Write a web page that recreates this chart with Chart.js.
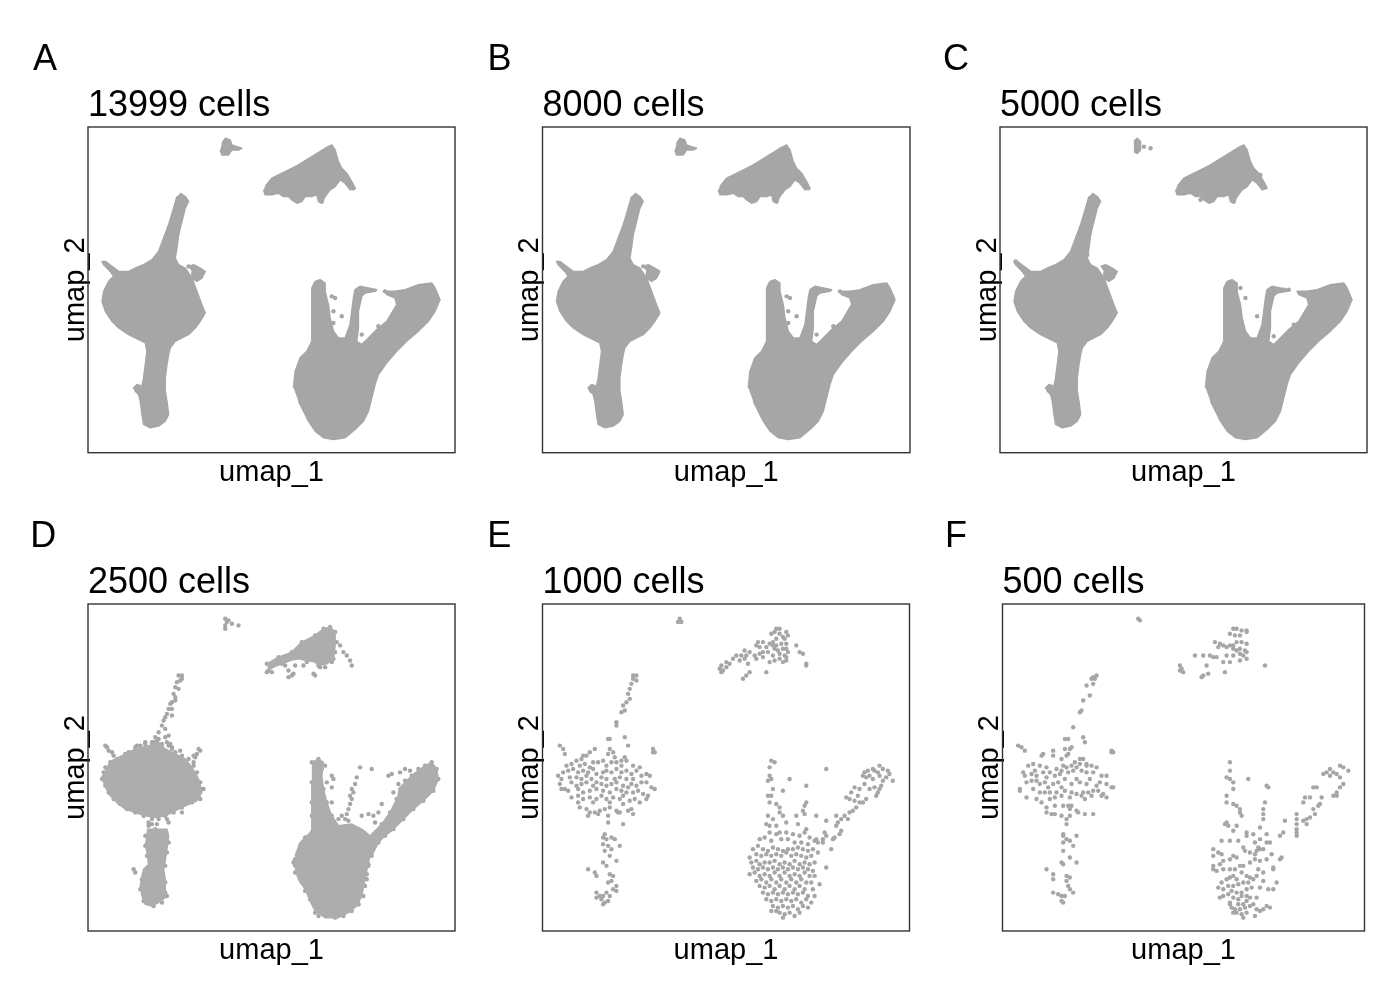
<!DOCTYPE html>
<html><head><meta charset="utf-8">
<script src="https://cdn.jsdelivr.net/npm/chart.js@4.4.1/dist/chart.umd.min.js"></script>
<style>
html,body{margin:0;padding:0;background:#fff;}
body{width:1400px;height:1000px;position:relative;overflow:hidden;}
canvas{position:absolute;}
</style></head><body>
<script>
// ---------------- text ----------------
const panelLetters = ['A','B','C','D','E','F'];
const panelTitles = ['13999 cells','8000 cells','5000 cells','2500 cells','1000 cells','500 cells'];
const axisTitleX = 'umap_1';
const axisTitleY = 'umap_2';

// ---------------- dense outlines (umap units) used for 13999 / 8000 / 5000 cells ----------------
const outlineTopDot = [[-2.8,8.9],[-2.6,9.2],[-2.3,9.1],[-2.2,8.8],[-1.9,8.7],[-1.6,8.6],[-1.8,8.5],[-2.2,8.5],[-2.4,8.2],[-2.8,8.2],[-2.9,8.5]];
const outlineTopDotC = [[-2.8,9.0],[-2.6,9.2],[-2.4,9.0],[-2.4,8.5],[-2.6,8.3],[-2.8,8.4]];
const outlineTopRight = [[-0.2,6.3],[0.2,6.8],[1.0,7.2],[1.8,7.6],[2.6,8.1],[3.4,8.6],[3.8,8.8],[4.0,8.5],[4.2,7.8],[4.4,7.4],[4.7,7.1],[5.0,6.6],[5.2,6.2],[4.9,6.1],[4.6,6.5],[4.3,6.7],[4.0,6.3],[3.7,6.1],[3.4,5.7],[3.2,5.3],[3.0,5.4],[2.9,5.8],[2.6,5.7],[2.2,5.7],[2.0,5.4],[1.7,5.3],[1.4,5.5],[1.2,5.7],[0.9,5.7],[0.6,5.9],[0.2,5.8],[-0.2,5.8],[-0.3,6.1]];
const outlineLeft = [[-5.3,5.9],[-5.0,5.7],[-4.8,5.4],[-5.0,5.0],[-5.2,4.2],[-5.4,3.4],[-5.5,2.6],[-5.6,2.0],[-5.4,1.6],[-5.0,1.4],[-4.6,0.8],[-4.3,0.0],[-4.0,-0.8],[-3.8,-1.3],[-4.1,-1.8],[-4.4,-2.2],[-4.8,-2.6],[-5.2,-2.8],[-5.6,-3.0],[-5.9,-3.4],[-6.0,-3.8],[-6.1,-4.4],[-6.2,-5.2],[-6.2,-6.0],[-6.1,-6.6],[-6.0,-7.4],[-6.2,-7.8],[-6.6,-8.1],[-7.1,-8.2],[-7.5,-8.0],[-7.6,-7.4],[-7.7,-6.6],[-7.8,-6.2],[-8.0,-6.0],[-8.1,-5.8],[-7.9,-5.6],[-7.6,-5.7],[-7.5,-5.2],[-7.4,-4.4],[-7.3,-3.6],[-7.4,-3.1],[-7.8,-2.9],[-8.4,-2.6],[-9.0,-2.2],[-9.4,-1.8],[-9.8,-1.2],[-10.0,-0.6],[-9.9,0.0],[-9.6,0.6],[-9.3,0.9],[-9.5,1.2],[-9.9,1.6],[-10.0,1.8],[-9.8,1.8],[-9.4,1.5],[-9.0,1.2],[-8.4,1.2],[-8.0,1.4],[-7.5,1.6],[-7.0,1.9],[-6.6,2.4],[-6.3,3.2],[-6.0,4.0],[-5.7,5.0],[-5.5,5.7]];
const outlineSmall = [[-4.8,1.5],[-4.5,1.6],[-4.1,1.4],[-3.8,1.2],[-4.0,0.8],[-4.3,0.6],[-4.6,0.8],[-4.6,1.2]];
const outlineRight = [[1.5,-5.8],[1.6,-4.8],[1.9,-4.0],[2.3,-3.6],[2.6,-3.0],[2.6,-2.0],[2.6,-0.8],[2.6,0.2],[2.8,0.6],[3.1,0.7],[3.4,0.5],[3.4,0.0],[3.6,-0.8],[3.7,-1.6],[3.9,-2.4],[4.2,-2.8],[4.6,-2.8],[4.9,-2.0],[5.0,-1.2],[5.1,-0.4],[5.2,0.1],[5.5,0.3],[6.0,0.2],[6.5,0.1],[6.4,0.0],[5.8,-0.1],[5.6,-0.3],[5.4,-1.2],[5.4,-2.2],[5.3,-3.0],[5.6,-3.2],[6.0,-2.8],[6.5,-2.3],[7.1,-1.8],[7.7,-0.8],[7.6,-0.4],[7.1,-0.2],[7.0,0.0],[7.6,0.0],[8.2,0.1],[9.0,0.4],[9.8,0.5],[10.0,0.2],[10.3,-0.5],[10.0,-1.2],[9.6,-1.8],[9.0,-2.4],[8.3,-3.0],[7.7,-3.6],[7.1,-4.3],[6.6,-5.0],[6.4,-5.6],[6.2,-6.4],[6.0,-7.2],[5.7,-7.8],[5.2,-8.3],[4.6,-8.8],[3.9,-8.9],[3.3,-8.8],[2.8,-8.4],[2.4,-7.8],[2.1,-7.2],[1.8,-6.6]];
const outliersAB = [[3.8,-0.3],[4.0,-0.4],[3.9,-1.2],[4.4,-1.5],[3.9,-1.9],[5.6,-2.6],[6.6,-2.1],[7.0,0.0],[4.9,6.3],[5.1,6.2],[3.2,5.4],[-4.8,1.5]];
const outliersC = [[-2.6,9.0],[-2.5,8.8],[-2.6,8.4],[-2.2,8.7],[-1.8,8.6],[4.3,7.4],[4.8,7.0],[5.0,6.3],[3.2,5.4],[1.2,5.5],[-7.9,-5.9],[-7.4,-5.6],[-9.9,1.8],[-4.2,1.3],[3.6,0.2],[3.9,-0.4],[4.6,-1.5],[5.6,-2.7],[6.2,0.1],[6.5,0.1],[7.4,-0.1],[6.8,-2.0],[-5.6,2.2],[-5.8,1.8]];

// ---------------- 2500 cells: dense cores + individual cells ----------------
const coreD_topRight = [[-0.1,6.3],[0.6,6.7],[1.4,7.0],[2.0,7.6],[2.8,8.0],[3.3,8.4],[3.7,8.5],[4.0,8.2],[4.0,7.4],[3.9,6.6],[3.5,6.3],[3.0,6.2],[2.8,6.4],[2.3,6.5],[1.8,6.6],[1.3,6.5],[0.8,6.3],[0.3,6.1],[0.0,5.9]];
const coreD_left = [[-9.8,0.0],[-9.4,0.5],[-8.8,0.8],[-8.0,1.2],[-7.2,1.4],[-6.6,1.6],[-6.2,1.2],[-5.6,0.9],[-5.0,0.6],[-4.6,0.1],[-4.2,-0.6],[-4.0,-1.4],[-4.3,-1.9],[-5.0,-2.2],[-5.6,-2.5],[-6.2,-2.8],[-6.8,-2.9],[-7.4,-2.8],[-8.0,-2.6],[-8.6,-2.4],[-9.1,-2.0],[-9.6,-1.5],[-9.9,-0.8],[-10.0,-0.4]];
const coreD_stem = [[-7.3,-3.6],[-6.1,-3.6],[-6.0,-4.0],[-6.1,-4.8],[-6.2,-5.5],[-6.3,-6.0],[-6.2,-6.6],[-6.2,-7.2],[-6.2,-7.7],[-6.6,-8.0],[-7.0,-8.2],[-7.4,-8.1],[-7.6,-7.6],[-7.7,-7.0],[-7.6,-6.4],[-7.5,-6.0],[-7.2,-5.7],[-7.3,-5.0],[-7.4,-4.4]];
const coreD_finger = [[2.6,0.4],[3.0,0.6],[3.3,0.4],[3.2,-0.4],[3.3,-1.2],[3.5,-2.0],[3.8,-2.8],[4.2,-3.4],[4.2,-3.9],[3.4,-4.0],[2.6,-3.9],[2.6,-2.8],[2.6,-2.0],[2.6,-0.8]];
const coreD_arm = [[7.8,-1.2],[8.6,-0.4],[9.4,0.2],[9.8,0.4],[10.1,0.0],[10.2,-0.6],[9.9,-1.3],[9.3,-1.9],[8.7,-2.4],[8.1,-3.0],[7.5,-3.6],[7.0,-4.0],[6.6,-4.4],[6.2,-5.2],[5.9,-5.0],[5.9,-4.2],[6.3,-3.8],[6.8,-3.3],[7.3,-2.6],[7.7,-1.8]];
const coreD_blob = [[1.6,-5.2],[1.9,-4.4],[2.3,-4.0],[2.8,-3.6],[3.6,-3.5],[4.2,-3.4],[5.0,-3.3],[5.6,-3.6],[6.1,-4.0],[6.2,-4.8],[6.0,-5.6],[5.8,-6.6],[5.6,-7.6],[5.3,-8.2],[4.8,-8.6],[4.2,-8.9],[3.4,-8.9],[2.8,-8.5],[2.5,-7.9],[2.2,-7.2],[1.8,-6.6],[1.6,-6.0]];
const cellsD_top = [[-2.6,9.0],[-2.5,8.8],[-2.6,8.6],[-2.6,8.4],[-2.2,8.7],[-1.8,8.6],[-2.4,8.9],[4.3,7.4],[4.5,7.0],[4.7,6.8],[4.9,6.5],[5.0,6.2],[1.0,6.2],[1.2,5.9],[1.4,5.6],[1.2,5.5],[1.5,5.7],[2.7,5.7],[2.8,5.6],[3.1,6.1],[3.4,6.1],[0.2,5.8],[-0.1,5.8],[3.8,6.4],[2.1,6.2],[1.6,6.2],
  [-0.1,6.3],[0.6,6.7],[1.4,7.0],[2.0,7.6],[2.8,8.0],[3.3,8.4],[3.7,8.5],[4.0,8.2],[4.1,7.6],[4.0,7.0],[3.9,6.6],[3.0,6.2],[2.3,6.4],[0.8,6.3],[0.0,5.9]];
const cellsD_left = [[-5.2,5.6],[-5.4,5.6],[-5.2,5.4],[-5.3,5.3],[-5.5,5.2],[-5.6,4.9],[-5.4,4.8],[-5.7,4.5],[-5.6,4.3],[-5.8,4.0],[-5.9,3.9],[-6.0,3.6],[-5.8,3.6],[-6.1,3.3],[-6.2,3.1],[-6.3,2.9],[-6.4,2.6],[-6.2,2.4],[-6.6,2.2],[-6.8,1.9],[-6.6,1.8],[-6.2,1.9],[-6.0,2.0],[-5.9,1.5],[-5.8,1.3],[-6.9,1.6],[-5.6,4.1],[-5.8,3.2],
  [-9.8,1.4],[-9.7,1.3],[-9.6,1.1],[-9.4,1.0],[-9.3,0.8],
  [-4.4,0.7],[-4.3,0.9],[-4.1,1.1],[-4.2,1.2],[-4.5,0.8],
  [-7.9,1.4],[-7.4,1.6],[-6.1,1.6],[-5.8,1.2],[-5.3,1.1],[-4.4,-0.4],[-3.9,-1.2],[-4.1,-1.8],[-5.2,-2.6],[-6.0,-3.2],[-6.1,-3.0],[-7.0,-3.3],[-7.2,-3.2],[-9.0,-2.0],[-9.3,-1.8],[-8.6,0.7],[-8.4,1.0],[-4.5,0.4],
  [-8.0,1.3],[-7.7,1.4],[-7.4,1.5],[-7.0,1.6],[-6.7,1.7],[-6.4,1.5],[-6.0,1.4],[-5.6,1.0],[-5.2,0.8],[-4.8,0.6],[-4.5,0.2],[-4.3,-0.2],[-4.1,-0.8],[-4.0,-1.2],[-4.2,-1.6],[-4.6,-2.0],[-5.2,-2.3],[-5.7,-2.6],[-6.2,-2.8],[-6.6,-3.0],[-7.0,-3.0],[-7.5,-2.8],[-8.0,-2.6],[-8.5,-2.4],[-8.9,-2.1],[-9.2,-1.8],[-9.6,-1.4],[-9.8,-1.0],[-10.0,-0.6],[-9.9,-0.2],[-9.8,0.1],[-9.5,0.4],[-9.1,0.6],[-8.6,0.9],
  [-8.1,-6.0],[-8.0,-6.2],[-7.2,-3.4],[-6.8,-3.6],[-6.7,-3.3],[-6.1,-7.6],[-6.2,-7.4],[-7.4,-4.0],[-6.0,-4.4],
  [-7.4,-4.6],[-7.3,-5.2],[-6.1,-5.0],[-6.2,-5.8],[-7.6,-6.6],[-7.7,-7.2],[-6.2,-6.8],[-7.5,-7.9],[-6.4,-8.0],[-6.9,-8.2]];
const cellsD_right = [[3.2,0.0],[3.8,-0.4],[3.9,-0.6],[3.8,-1.1],[3.4,0.2],[3.5,-0.8],
  [5.5,0.1],[6.2,0.0],[5.3,-0.5],[5.2,-0.9],[5.0,-1.2],[4.9,-1.6],[5.0,-1.8],[4.9,-2.1],[4.8,-2.4],[4.7,-2.7],[4.6,-3.0],[4.4,-2.8],[4.2,-3.0],[5.6,-2.8],[6.0,-2.7],[6.3,-2.8],[3.8,-2.0],[5.1,-1.4],[4.8,-3.1],
  [7.2,-0.4],[7.4,-0.3],[7.9,-0.2],[8.2,0.0],[6.8,-2.1],[6.6,-2.6],[6.4,-3.2],[9.0,0.0],[8.2,-0.7],[7.8,-0.9],[8.5,-0.1],[7.5,-1.4],
  [1.5,-5.6],[1.6,-6.2],[6.0,-5.8],[5.9,-6.6],[6.2,-5.2],[5.7,-7.6],[5.4,-8.1],[2.8,-8.6],[2.0,-4.8],[3.0,-8.8],[5.8,-4.0],
  [1.6,-5.4],[1.6,-5.8],[1.8,-6.3],[2.0,-6.8],[2.2,-7.3],[2.5,-7.8],[2.8,-8.2],[3.1,-8.6],[3.5,-8.8],[4.0,-8.9],[4.5,-8.8],[5.0,-8.5],[5.4,-8.1],[5.6,-7.6],[5.8,-7.0],[5.9,-6.3],[6.0,-5.7],[6.1,-5.1],[6.2,-4.5],[6.0,-4.1],[5.7,-3.8],[1.9,-4.6],[2.2,-4.1],[2.6,-3.8],
  [2.6,0.4],[2.6,-0.8],[2.6,-2.0],[2.6,-2.8],[3.0,0.6],[3.3,-1.2],[3.5,-2.0],[3.8,-2.8],
  [9.4,0.2],[9.8,0.4],[10.1,0.0],[10.2,-0.6],[9.9,-1.3],[9.3,-1.9],[8.7,-2.4],[8.1,-3.0],[7.5,-3.6],[7.0,-4.0],[6.6,-4.4],[8.6,-0.4],[7.7,-1.8],[7.3,-2.6],[6.8,-3.3]];

// ---------------- 1000 cells ----------------
const cellsE_top = [[-2.6,9.0],[-2.5,8.8],[-2.7,8.8]];
const cellsE_topRight = [[3.2,8.4],[3.4,8.4],[3.1,8.2],[2.9,8.1],[3.8,8.2],[3.9,8.0],[3.4,8.1],[3.6,7.9],[3.7,7.8],[3.2,7.8],[3.0,7.6],[2.8,7.5],[2.4,7.6],[2.1,7.6],[2.0,7.4],[2.2,7.3],[2.6,7.3],[3.0,7.4],[3.2,7.4],[3.5,7.5],[3.8,7.5],[4.4,7.4],[3.1,7.2],[3.3,7.1],[3.6,7.2],[3.8,7.2],[3.9,7.0],[3.4,6.9],[3.7,6.8],[3.8,6.7],[4.6,7.0],[4.8,6.9],[3.0,6.8],[2.7,7.0],[2.4,7.0],[2.2,6.9],[1.9,6.8],[1.6,7.0],[1.3,7.1],[1.4,6.8],[1.1,6.8],[0.8,6.8],[0.6,6.6],[1.0,6.5],[1.3,6.6],[1.5,6.3],[2.0,6.6],[2.4,6.7],[2.8,6.4],[3.1,6.5],[3.4,6.6],[3.6,6.4],[3.8,6.5],[0.2,6.4],[-0.1,6.2],[-0.2,6.0],[0.0,5.9],[-0.1,5.8],[0.2,6.1],[0.4,6.3],[2.6,5.8],[5.0,6.3],[5.0,6.2],[1.6,5.8],[1.4,5.6],[1.2,5.4]];
const cellsE_left = [[-5.2,5.6],[-5.4,5.6],[-5.4,5.4],[-5.2,5.3],[-5.5,5.1],[-5.6,4.8],[-5.7,4.5],[-5.6,4.2],[-5.8,4.0],[-6.0,3.8],[-5.9,3.5],[-6.1,3.4],[-6.4,2.8],[-6.4,2.6],[-6.8,1.8],[-6.9,1.8],[-5.9,1.9],[-5.7,1.4],
  [-9.8,1.4],[-9.6,1.2],[-9.5,0.9],[-4.2,1.2],[-4.1,1.0],[-4.2,1.0],
  [-7.7,1.2],[-8.0,1.0],[-8.2,0.8],[-8.4,0.8],[-6.8,1.2],[-6.6,1.0],[-6.9,0.9],[-6.5,0.7],[-5.9,0.7],[-6.1,0.5],[-8.8,0.5],[-8.5,0.6],[-9.4,0.2],[-9.1,0.3],[-8.6,0.2],[-8.3,0.3],[-7.8,0.4],[-7.5,0.4],[-7.2,0.5],[-6.7,0.4],[-6.4,0.4],[-5.8,0.5],[-5.4,0.2],[-5.0,0.1],[-6.1,0.2],[-7.0,0.2],[-8.0,0.1],
  [-9.9,-0.4],[-9.6,-0.2],[-9.3,-0.1],[-9.0,0.0],[-8.7,-0.2],[-8.4,-0.1],[-8.1,-0.2],[-7.8,0.0],[-7.6,-0.3],[-7.2,-0.2],[-7.0,-0.1],[-6.7,-0.2],[-6.4,0.0],[-6.1,-0.2],[-5.8,-0.1],[-5.5,-0.3],[-5.2,-0.1],[-4.9,-0.4],[-4.6,-0.3],[-4.4,-0.4],[-9.7,-0.6],[-9.2,-0.5],[-8.8,-0.5],[-8.5,-0.6],[-8.2,-0.4],[-7.9,-0.6],[-7.3,-0.5],[-7.0,-0.6],[-6.5,-0.6],[-6.2,-0.5],[-5.8,-0.6],[-5.4,-0.6],
  [-9.8,-0.9],[-9.5,-1.2],[-9.1,-0.8],[-8.8,-1.0],[-8.5,-0.9],[-8.2,-0.8],[-7.8,-1.0],[-7.6,-0.8],[-7.3,-0.9],[-7.0,-1.0],[-6.7,-0.9],[-6.4,-0.8],[-6.0,-1.0],[-5.7,-1.1],[-5.5,-0.9],[-5.2,-1.0],[-4.9,-0.8],[-4.6,-0.8],[-4.3,-1.1],[-4.1,-1.2],[-9.7,-1.2],[-9.3,-1.3],[-8.7,-1.2],[-8.4,-1.4],[-8.0,-1.3],[-7.6,-1.2],[-7.2,-1.3],[-6.8,-1.4],[-6.4,-1.2],[-6.1,-1.3],[-5.8,-1.4],[-5.4,-1.4],[-5.1,-1.3],[-4.8,-1.5],[-4.5,-1.6],
  [-9.1,-1.7],[-8.7,-1.6],[-8.4,-1.8],[-8.0,-1.7],[-7.6,-1.8],[-7.3,-1.6],[-7.0,-1.8],[-6.6,-1.7],[-6.2,-1.8],[-6.0,-1.6],[-5.6,-1.9],[-5.3,-1.8],[-5.0,-2.0],[-4.6,-1.8],[-8.7,-2.0],[-7.8,-2.0],[-6.8,-2.0],[-6.0,-2.1],
  [-8.6,-2.3],[-8.2,-2.4],[-8.0,-2.6],[-7.7,-2.6],[-7.4,-2.5],[-7.1,-2.4],[-6.8,-2.3],[-6.4,-2.5],[-6.2,-2.6],[-5.7,-2.5],[-5.4,-2.7],[-8.1,-2.8],[-7.5,-2.7],[-6.9,-2.8],[-6.3,-2.6],[-6.9,-3.2],[-6.0,-3.3],[-5.5,-2.4]];
const cellsE_stem = [[-7.1,-3.9],[-7.2,-4.1],[-7.0,-4.2],[-6.7,-4.1],[-6.5,-4.2],[-6.2,-4.6],[-7.2,-4.5],[-6.9,-4.6],[-7.1,-4.9],[-6.7,-4.8],[-6.8,-5.2],[-6.4,-5.5],[-7.2,-5.6],[-7.0,-5.8],[-8.1,-6.0],[-7.7,-6.2],[-7.6,-6.4],[-6.8,-6.3],[-6.6,-6.4],[-6.7,-6.7],[-6.9,-6.8],[-6.4,-7.0],[-6.6,-7.2],[-6.4,-7.3],[-7.6,-7.4],[-7.4,-7.6],[-7.6,-7.7],[-7.2,-7.6],[-7.0,-7.4],[-6.8,-7.6],[-7.3,-7.8],[-7.1,-8.0],[-7.2,-8.1],[-6.9,-7.9]];
const cellsE_right = [[2.9,0.5],[3.1,0.4],[2.8,0.1],[2.8,-0.4],[2.9,-0.6],[2.7,-0.7],[3.0,-1.2],[2.7,-1.6],[2.9,-1.6],[2.8,-2.0],[3.2,-2.1],[3.4,-2.3],[3.4,-2.6],[3.6,-2.8],[2.7,-2.8],[3.0,-3.0],[2.6,-3.3],[2.8,-3.4],[3.2,-3.4],[3.4,-3.8],[4.0,-0.6],[3.6,-1.3],[3.8,-3.2],
  [6.2,0.0],[5.0,-1.0],[5.0,-2.0],[4.9,-2.2],[4.8,-2.5],[4.9,-2.7],[5.6,-2.8],[4.5,-3.3],[5.0,-3.6],[4.4,-2.8],[6.2,-3.1],
  [8.5,-0.2],[8.7,-0.1],[9.0,0.0],[9.1,-0.1],[9.3,-0.2],[9.4,0.2],[9.6,0.0],[9.9,-0.1],[10.0,-0.3],[10.2,-0.7],[9.8,-0.5],[9.6,-0.7],[9.5,-1.0],[9.4,-1.2],[9.3,-1.4],[9.2,-1.6],[8.8,-0.4],[8.6,-0.5],[8.4,-0.4],[9.0,-0.6],[8.5,-0.9],[8.2,-1.2],[7.9,-1.1],[7.7,-1.4],[7.4,-1.7],[7.6,-1.8],[7.9,-1.9],[8.2,-2.0],[8.4,-2.0],[8.6,-1.8],[8.0,-2.3],[7.8,-2.5],[7.6,-2.6],[7.3,-2.8],[7.5,-3.0],[7.1,-3.0],[6.9,-3.2],[6.8,-2.8],[6.8,-3.4],[7.1,-3.7],[7.0,-3.9],[6.7,-4.1],[6.6,-4.2],[6.2,-4.0],[6.1,-3.8],[6.0,-4.2],[6.0,-4.4],[6.5,-4.8],[5.7,-4.4],[5.6,-4.2],[8.1,-1.6],[8.8,-1.2],[9.1,-1.1],[9.4,-0.4],
  [2.8,-3.8],[3.2,-3.9],[3.8,-3.8],[4.2,-3.9],[4.6,-4.0],[4.9,-3.8],[5.2,-4.1],[5.5,-4.3],[2.2,-4.2],[2.5,-4.1],[2.9,-4.3],[3.5,-4.2],[3.9,-4.2],[4.3,-4.4],[4.7,-4.4],[5.1,-4.5],
  [1.8,-4.8],[2.1,-4.6],[2.4,-4.8],[2.7,-4.9],[3.0,-4.7],[3.3,-4.8],[3.6,-4.9],[3.9,-4.8],[4.2,-4.8],[4.5,-4.7],[4.8,-4.8],[5.1,-4.9],[5.4,-4.8],[5.7,-5.0],[2.0,-5.1],[2.3,-5.2],[2.6,-5.1],[2.9,-5.2],[3.2,-5.1],[3.5,-5.2],[3.8,-5.0],[4.1,-5.2],[4.4,-5.1],[4.7,-5.2],[5.0,-5.3],[5.3,-5.2],[1.6,-5.3],
  [1.7,-5.6],[2.0,-5.5],[2.2,-5.7],[2.5,-5.6],[2.8,-5.6],[3.1,-5.5],[3.4,-5.7],[3.7,-5.6],[4.0,-5.7],[4.3,-5.5],[4.6,-5.7],[4.9,-5.6],[5.2,-5.7],[5.5,-5.6],[1.8,-5.9],[2.1,-6.0],[2.4,-5.9],[2.7,-6.0],[3.0,-5.9],[3.3,-6.0],[3.6,-5.9],[3.9,-6.0],[4.2,-5.9],[4.5,-6.0],[4.8,-5.9],[5.1,-6.0],[5.4,-6.1],[6.2,-5.9],
  [1.6,-6.3],[1.9,-6.2],[2.2,-6.4],[2.5,-6.3],[2.8,-6.4],[3.1,-6.2],[3.4,-6.4],[3.7,-6.2],[4.0,-6.4],[4.3,-6.3],[4.6,-6.4],[4.9,-6.2],[5.2,-6.4],[5.5,-6.4],[2.0,-6.7],[2.3,-6.6],[2.6,-6.8],[2.9,-6.6],[3.2,-6.8],[3.5,-6.6],[3.8,-6.8],[4.1,-6.6],[4.4,-6.8],[4.7,-6.6],[5.0,-6.8],[5.3,-6.8],[5.8,-6.9],
  [2.2,-7.0],[2.5,-7.1],[2.8,-7.0],[3.1,-7.2],[3.4,-7.0],[3.7,-7.2],[4.0,-7.0],[4.3,-7.2],[4.6,-7.0],[4.9,-7.2],[5.4,-7.2],[2.4,-7.4],[2.7,-7.5],[3.0,-7.4],[3.3,-7.5],[3.6,-7.4],[3.9,-7.5],[4.2,-7.4],[4.5,-7.5],[4.8,-7.4],[5.1,-7.6],[5.5,-7.6],
  [2.6,-7.8],[2.9,-7.9],[3.2,-7.8],[3.5,-7.9],[3.8,-7.8],[4.1,-7.9],[4.4,-7.8],[4.7,-8.0],[5.0,-7.8],[5.3,-8.0],[3.0,-8.2],[3.3,-8.3],[3.6,-8.2],[3.9,-8.3],[4.2,-8.2],[4.5,-8.4],[4.8,-8.2],[5.1,-8.3],[3.4,-8.6],[3.7,-8.7],[4.0,-8.6],[4.3,-8.8],[4.6,-8.6],[3.6,-8.9],[3.2,-8.5],[2.9,-8.5]];

// ---------------- 500 cells ----------------
const cellsF_top = [[-2.7,9.0],[-2.6,8.9]];
const cellsF_topRight = [[3.0,8.4],[3.2,8.4],[3.5,8.3],[3.8,8.3],[3.8,8.2],[2.8,8.1],[3.1,8.0],[3.4,8.0],[1.9,7.6],[2.2,7.5],[2.4,7.4],[2.8,7.4],[3.0,7.4],[3.2,7.6],[3.5,7.6],[3.8,7.5],[2.1,7.3],[2.6,7.3],[3.0,7.2],[3.2,7.1],[3.4,7.2],[3.7,7.1],[3.8,7.0],[0.7,6.8],[1.2,6.8],[1.6,6.8],[1.8,6.7],[2.0,6.7],[2.6,6.8],[3.0,6.8],[3.4,6.9],[3.6,6.8],[3.4,6.5],[3.8,6.6],[2.4,6.4],[2.8,6.4],[1.4,6.2],[-0.2,6.2],[-0.1,6.0],[-0.2,5.9],[0.0,5.8],[4.9,6.2],[2.5,5.8],[1.5,5.7],[1.2,5.6],[1.1,5.5]];
const cellsF_left = [[-5.2,5.6],[-5.4,5.5],[-5.5,5.4],[-5.3,5.4],[-5.4,5.1],[-5.8,5.0],[-5.6,4.4],[-6.0,4.1],[-6.1,3.5],[-6.2,3.4],[-6.6,2.5],[-7.1,1.8],[-6.9,1.8],[-6.0,1.9],[-5.9,1.6],
  [-9.9,1.4],[-9.7,1.3],[-9.5,1.1],[-4.3,1.1],[-4.2,1.0],[-4.3,1.0],
  [-7.8,1.1],[-7.1,1.2],[-6.8,1.2],[-6.7,1.3],[-8.5,0.8],[-8.4,0.9],[-7.8,0.8],[-7.3,0.6],[-7.0,0.8],[-6.2,0.6],[-6.0,0.6],[-6.5,0.4],
  [-9.3,0.2],[-9.0,0.3],[-8.6,0.2],[-8.2,0.1],[-7.2,0.2],[-7.0,0.1],[-6.7,0.2],[-6.4,0.1],[-6.2,0.3],[-5.8,0.3],[-5.5,0.2],[-5.2,0.1],[-7.6,0.0],[-7.3,-0.1],[-7.7,-0.4],[-7.4,-0.3],[-6.9,-0.2],[-6.6,-0.1],[-6.1,-0.1],[-5.8,-0.2],[-5.4,-0.2],[-4.9,-0.4],[-4.6,-0.4],[-9.6,-0.2],[-9.5,-0.4],[-8.9,-0.1],[-8.8,-0.4],[-8.4,-0.2],[-8.2,-0.5],[-8.0,-0.2],
  [-9.4,-0.8],[-9.1,-0.7],[-8.8,-0.7],[-8.6,-0.9],[-8.3,-0.8],[-7.8,-0.9],[-7.5,-0.8],[-7.1,-0.6],[-6.7,-0.9],[-6.2,-0.8],[-5.8,-0.9],[-5.2,-1.0],[-4.6,-0.9],[-4.3,-1.1],[-9.8,-1.2],[-9.0,-1.2],[-8.6,-1.4],[-8.3,-1.4],[-8.0,-1.4],[-7.6,-1.4],[-7.1,-1.3],[-6.7,-1.4],[-6.4,-1.5],[-6.0,-1.4],[-5.7,-1.4],[-5.4,-1.3],[-5.1,-1.3],[-4.8,-1.5],[-4.6,-1.7],[-4.2,-1.1],
  [-9.4,-1.7],[-8.8,-1.8],[-8.5,-2.0],[-8.0,-1.8],[-7.7,-1.7],[-7.3,-1.6],[-6.8,-1.7],[-6.1,-1.6],[-5.9,-1.8],[-5.5,-1.6],[-4.9,-1.6],[-9.8,-1.3],
  [-8.2,-2.3],[-7.7,-2.2],[-7.2,-2.2],[-6.9,-2.2],[-6.7,-2.2],[-6.4,-2.5],[-6.8,-2.4],[-8.2,-2.6],[-7.9,-2.7],[-7.7,-2.7],[-7.3,-2.8],[-6.8,-2.8],[-6.3,-2.6],[-5.9,-2.7],[-5.4,-2.7],[-7.0,-3.0],
  [-6.9,0.9],[-5.8,0.2],[-9.1,-0.3],[-6.4,-0.6],[-5.6,-0.6],[-5.0,-0.8],[-8.1,-1.1],[-7.3,-1.1]];
const cellsF_stem = [[-7.0,-3.3],[-7.2,-3.9],[-7.2,-4.0],[-7.0,-4.2],[-6.8,-4.3],[-6.4,-4.0],[-6.6,-4.6],[-7.2,-4.4],[-7.2,-4.9],[-6.8,-5.3],[-6.4,-5.6],[-7.3,-5.6],[-7.2,-5.7],[-8.2,-6.0],[-7.8,-6.3],[-7.8,-6.6],[-7.0,-6.4],[-6.8,-6.5],[-7.0,-6.7],[-6.9,-7.0],[-6.8,-7.2],[-6.6,-7.4],[-7.8,-7.4],[-7.5,-7.5],[-7.3,-7.6],[-7.1,-7.6],[-7.3,-7.9],[-7.2,-8.0]];
const cellsF_right = [[2.8,0.4],[2.8,-0.1],[2.6,-0.5],[2.8,-0.6],[3.0,-0.8],[3.0,-1.2],[2.6,-1.6],[2.6,-2.0],[3.0,-2.1],[3.2,-2.2],[3.4,-2.4],[3.4,-2.6],[3.5,-2.8],[2.5,-3.3],[2.7,-3.4],[3.0,-3.7],[3.2,-3.4],[3.9,-0.6],
  [5.0,-1.0],[5.1,-1.1],[4.9,-2.0],[4.8,-2.4],[4.8,-2.7],[4.8,-3.0],[4.6,-3.5],[5.0,-3.9],
  [8.4,-0.3],[8.6,-0.2],[8.8,0.0],[9.0,-0.2],[9.2,-0.3],[9.4,0.2],[9.6,0.1],[9.9,-0.1],[9.4,-0.5],[9.6,-0.9],[9.4,-1.1],[9.2,-1.4],[9.2,-1.6],[9.0,-1.6],[8.8,-0.4],[7.8,-1.1],[8.0,-1.1],[7.3,-1.7],[7.6,-1.7],[7.2,-2.0],[8.3,-1.7],[8.2,-2.1],[8.1,-2.2],[7.8,-2.4],[7.9,-2.7],[7.6,-2.9],[7.4,-3.0],[6.8,-2.7],[6.8,-3.0],[7.2,-3.1],[7.4,-3.3],[6.8,-3.3],[6.8,-3.6],[6.8,-3.8],[6.8,-4.0],[6.1,-3.1],[6.0,-3.8],[5.8,-4.0],[5.2,-4.4],[5.0,-4.4],[5.9,-5.3],[5.8,-5.4],
  [2.6,-3.2],[3.8,-3.8],[3.8,-4.0],[4.2,-3.9],[4.6,-4.2],[4.3,-4.4],[4.5,-4.7],[4.4,-4.9],[4.6,-4.8],[4.8,-4.8],[4.3,-5.1],[4.0,-5.0],[3.6,-4.7],[3.7,-4.9],[3.3,-4.3],[2.8,-4.3],[2.3,-4.3],[1.8,-4.8],[2.1,-5.0],[2.3,-5.1],[1.8,-5.2],[3.0,-5.2],[3.2,-5.3],[2.8,-5.4],[2.4,-5.5],[2.2,-5.7],[1.8,-5.8],[1.8,-6.0],[2.0,-6.1],[2.4,-6.0],[2.8,-6.0],[3.1,-6.0],[3.4,-5.8],[3.6,-5.8],[4.0,-5.6],[4.3,-5.4],[4.6,-5.5],[5.0,-5.4],[5.3,-5.1],[5.4,-5.9],[5.4,-6.0],[4.8,-6.2],[4.5,-6.0],[4.4,-6.4],[4.0,-6.5],[3.8,-6.4],[3.5,-6.2],[3.2,-6.6],[3.0,-6.4],[2.8,-6.5],[2.6,-6.6],[2.3,-6.8],[2.1,-7.1],[2.4,-7.2],[2.7,-7.0],[3.0,-7.0],[3.3,-6.9],[3.6,-6.8],[3.9,-6.8],[4.2,-6.6],[4.8,-6.7],[5.6,-6.8],[5.4,-7.2],[5.1,-7.2],[4.6,-7.1],[4.1,-7.1],[3.8,-7.2],[3.5,-7.4],[3.2,-7.4],[2.9,-7.3],[2.7,-7.5],[2.4,-7.6],[2.2,-7.7],[3.0,-7.7],[3.3,-7.8],[3.5,-7.6],[3.8,-7.6],[4.0,-7.7],[4.4,-7.7],[3.8,-7.9],[3.6,-8.1],[3.3,-8.1],[2.8,-8.0],[2.9,-8.3],[3.1,-8.4],[3.4,-8.4],[3.7,-8.3],[4.0,-8.2],[4.2,-8.1],[4.4,-8.4],[4.6,-8.5],[4.8,-8.4],[5.0,-8.2],[5.2,-8.3],[3.5,-8.7],[3.6,-8.9],[3.2,-8.6],[4.3,-8.8],[3.0,-8.6],[2.8,-8.1],[3.8,-8.6]];

// ---------------- axis ranges (umap units) ----------------
const xRange = [-10.84, 11.2];
const xRangeF = [-10.84, 10.87];
const yRange = [-9.7, 9.88];

// ---------------- page layout (pixels) ----------------
const layoutSpec = [
  {letterX:33,    top:10,  letterBase:70,  titleBase:116, boxL:88,     boxR:455,    boxT:127, boxB:452.7},
  {letterX:487.4, top:10,  letterBase:70,  titleBase:116, boxL:542.5,  boxR:910,    boxT:127, boxB:452.7},
  {letterX:943,   top:10,  letterBase:70,  titleBase:116, boxL:1000,   boxR:1367,   boxT:127, boxB:452.7},
  {letterX:30.2,  top:487, letterBase:547, titleBase:593, boxL:88,     boxR:455,    boxT:604, boxB:931},
  {letterX:487.2, top:487, letterBase:547, titleBase:593, boxL:542.5,  boxR:909.5,  boxT:604, boxB:931},
  {letterX:945,   top:487, letterBase:547, titleBase:593, boxL:1002.5, boxR:1364.5, boxT:604, boxB:931}
];

const CELL_COLOR = '#A6A6A6';
const CORE_COLOR_D = '#ADADAD';
const FONT = '"Liberation Sans", Arial, Helvetica, sans-serif';
const HEAD_SIZE = 36, AXIS_SIZE = 29;
const HEAD_LH = 1.1;
const X_TITLE_LH = 1.2, X_TITLE_PAD = 2.5;
const Y_TITLE_LH = 0.85;
const CELL_RADIUS = 2.2;

const toXY = arr => arr.map(p => ({x: p[0], y: p[1]}));

const boxPlugin = {
  id: 'panelBox',
  afterDatasetsDraw(chart) {
    const {ctx, chartArea: a} = chart;
    ctx.save();
    ctx.strokeStyle = '#333333';
    ctx.lineWidth = 1.4;
    ctx.strokeRect(a.left, a.top, a.right - a.left, a.bottom - a.top);
    ctx.restore();
  }
};

function buildPanel(idx, outlines, cellSets, xr, coreColor) {
  const L = layoutSpec[idx];
  const canvasLeft = Math.floor(L.letterX);
  const padLeft = L.letterX - canvasLeft;
  const xScaleH = AXIS_SIZE * X_TITLE_LH + X_TITLE_PAD;
  const W = Math.ceil(L.boxR - canvasLeft + 6);
  const H = Math.ceil(L.boxB - L.top + xScaleH + 6);
  const canvas = document.createElement('canvas');
  canvas.width = W; canvas.height = H;
  canvas.style.left = canvasLeft + 'px';
  canvas.style.top = L.top + 'px';
  canvas.style.width = W + 'px';
  canvas.style.height = H + 'px';
  document.body.appendChild(canvas);

  const mid = HEAD_SIZE * 0.265;
  const lh = HEAD_SIZE * HEAD_LH;
  const tPadTop = L.letterBase - mid - lh / 2 - L.top;
  const sPadTop = L.titleBase - L.letterBase - lh;
  const sPadBottom = Math.max(0, L.boxT - (L.titleBase - mid + lh / 2));
  const yTitlePad = L.boxL - L.letterX - AXIS_SIZE * Y_TITLE_LH;
  const fillColor = coreColor || CELL_COLOR;

  const datasets = [];
  outlines.forEach(o => datasets.push({
    type: 'line', data: toXY(o), showLine: true, fill: 'shape', tension: 0,
    borderColor: fillColor, backgroundColor: fillColor, borderWidth: 1.5, borderJoinStyle: 'round',
    pointRadius: 0, pointHoverRadius: 0, pointHitRadius: 0
  }));
  cellSets.forEach(c => datasets.push({
    type: 'scatter', data: toXY(c), backgroundColor: CELL_COLOR, borderWidth: 0,
    pointRadius: CELL_RADIUS, pointHoverRadius: CELL_RADIUS, pointStyle: 'circle'
  }));

  const axisCommon = {
    type: 'linear',
    grid: {display: false, drawTicks: false},
    border: {display: false},
    ticks: {display: false}
  };

  new Chart(canvas, {
    type: 'scatter',
    data: {datasets},
    options: {
      responsive: false, animation: false, events: [],
      layout: {autoPadding: false, padding: {
        left: padLeft, top: 0,
        right: W - (L.boxR - canvasLeft),
        bottom: H - (L.boxB - L.top) - xScaleH
      }},
      plugins: {
        legend: {display: false},
        tooltip: {enabled: false},
        title: {display: true, text: panelLetters[idx], align: 'start', fullSize: true, color: '#000',
          font: {family: FONT, size: HEAD_SIZE, weight: 'normal', lineHeight: HEAD_LH},
          padding: {top: tPadTop, bottom: 0}},
        subtitle: {display: true, text: panelTitles[idx], align: 'start', fullSize: false, color: '#000',
          font: {family: FONT, size: HEAD_SIZE, weight: 'normal', lineHeight: HEAD_LH},
          padding: {top: sPadTop, bottom: sPadBottom}}
      },
      scales: {
        x: Object.assign({}, axisCommon, {min: xr[0], max: xr[1],
          title: {display: true, text: axisTitleX, color: '#000', font: {family: FONT, size: AXIS_SIZE, lineHeight: X_TITLE_LH}, padding: {top: X_TITLE_PAD, bottom: 0}}}),
        y: Object.assign({}, axisCommon, {min: yRange[0], max: yRange[1],
          title: {display: true, text: axisTitleY, color: '#000', font: {family: FONT, size: AXIS_SIZE, lineHeight: Y_TITLE_LH}, padding: {top: yTitlePad, bottom: 0}}})
      }
    },
    plugins: [boxPlugin]
  });
}

const denseOutlines = [outlineTopDot, outlineTopRight, outlineLeft, outlineSmall, outlineRight];
buildPanel(0, denseOutlines, [outliersAB], xRange);
buildPanel(1, denseOutlines, [outliersAB], xRange);
buildPanel(2, [outlineTopDotC, outlineTopRight, outlineLeft, outlineSmall, outlineRight], [outliersC], xRange);
buildPanel(3, [coreD_topRight, coreD_left, coreD_stem, coreD_finger, coreD_arm, coreD_blob], [cellsD_top, cellsD_left, cellsD_right], xRange, CORE_COLOR_D);
buildPanel(4, [], [cellsE_top, cellsE_topRight, cellsE_left, cellsE_stem, cellsE_right], xRange);
buildPanel(5, [], [cellsF_top, cellsF_topRight, cellsF_left, cellsF_stem, cellsF_right], xRangeF);
</script>
</body></html>
